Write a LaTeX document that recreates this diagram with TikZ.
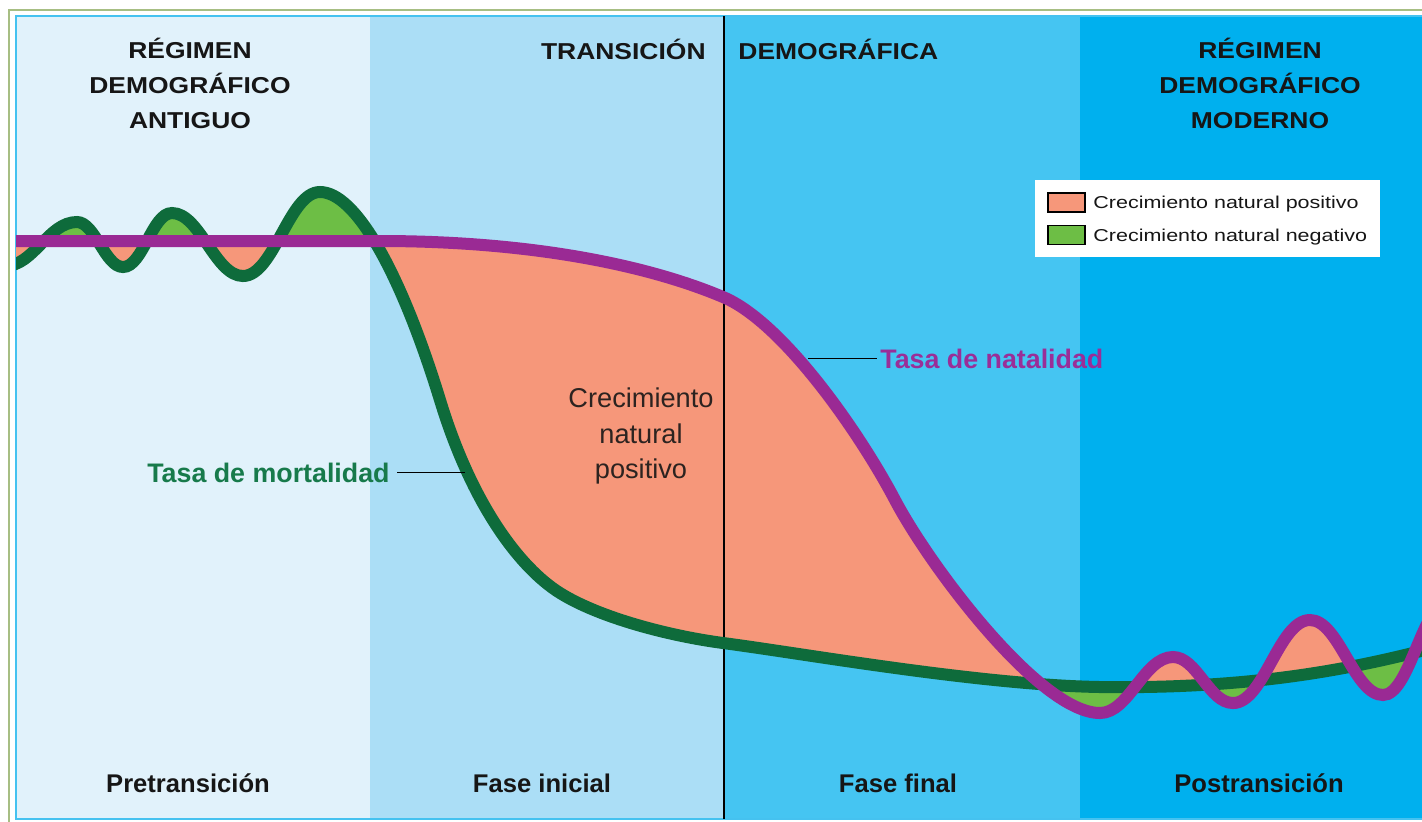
\documentclass[tikz,border=0pt]{standalone}
\usepackage{fontspec}
\setmainfont{Liberation Sans}
\newfontfamily\headfont{Liberation Sans}[FakeStretch=1.15]
\newfontfamily\legfont{Liberation Sans}[FakeStretch=1.25]
\definecolor{panelA}{HTML}{E1F2FB}
\definecolor{panelB}{HTML}{ABDEF6}
\definecolor{panelC}{HTML}{45C5F2}
\definecolor{panelD}{HTML}{00B0EE}
\definecolor{salmonc}{HTML}{F6977A}
\definecolor{lgreen}{HTML}{6DBE45}
\definecolor{dgreen}{HTML}{0E6B3B}
\definecolor{purplec}{HTML}{9A2A94}
\definecolor{mortc}{HTML}{177A4B}
\definecolor{natc}{HTML}{9A2E98}
\definecolor{framec}{HTML}{A7BE83}
\definecolor{borderc}{HTML}{45C2F0}
\definecolor{inkc}{HTML}{161616}
\begin{document}
\begin{tikzpicture}[x=0.5pt,y=-0.5pt,
  gpath/.style={insert path={(-40,250) .. controls (-20,266) and (-10,266) .. (5,266)
     .. controls (34,266) and (48,222) .. (77,222)
     .. controls (95,222) and (105,267) .. (123,267)
     .. controls (143,267) and (152,213) .. (172,213)
     .. controls (200,213) and (215,276) .. (243,276)
     .. controls (274,276) and (289,192) .. (320,192)
     .. controls (355,192) and (400,270) .. (440,400)
     .. controls (472,505) and (520,568) .. (560,593)
     .. controls (600,618) and (670,636) .. (723,643)
     .. controls (800,653) and (980,685) .. (1100,687)
     .. controls (1250,689) and (1350,670) .. (1440,646)}},
  ppath/.style={insert path={(-10,241) -- (380,241)
     .. controls (520,241) and (640,262) .. (723,297)
     .. controls (783,322) and (860,433.5) .. (895,500)
     .. controls (930,566.5) and (1040,713) .. (1100,713)
     .. controls (1129,713) and (1144,657) .. (1173,657)
     .. controls (1197,657) and (1209,703) .. (1233,703)
     .. controls (1264,703) and (1279,620) .. (1310,620)
     .. controls (1339,620) and (1354,695) .. (1383,695)
     .. controls (1410,695) and (1423,600) .. (1450,600)}},
  curve/.style={line width=6pt},
  headtxt/.style={font=\headfont\bfseries\fontsize{11.5}{14}\selectfont, text=inkc, inner sep=0pt, anchor=base},
  phasetxt/.style={font=\bfseries\fontsize{12.8}{15}\selectfont, text=inkc, inner sep=0pt, anchor=base},
  midtxt/.style={font=\fontsize{13.6}{16}\selectfont, text=inkc!90!salmonc, inner sep=0pt, anchor=base},
  legtxt/.style={font=\legfont\fontsize{8.6}{10}\selectfont, text=inkc, inner sep=0pt, anchor=base west},
  swatch/.style={draw=black, line width=0.6pt, minimum width=18.5pt, minimum height=9.5pt, inner sep=0pt},
  ratetxt/.style={font=\bfseries\fontsize{13.4}{16}\selectfont, inner sep=0pt},
  pointer/.style={draw=black, line width=0.6pt}
]
\useasboundingbox (0,0) rectangle (1422,821);
\fill[white] (0,0) rectangle (1422,821);
% frame
\draw[framec, line width=0.8pt] (9,830) -- (9,10) -- (1430,10);
% panels
\fill[panelA] (16,16) rectangle (370,819);
\fill[panelB] (370,16) rectangle (724,819);
\fill[panelC] (724,16) rectangle (1080,819);
\fill[panelD] (1080,16) rectangle (1430,819);
\draw[borderc, line width=0.8pt] (1430,819) -- (16,819) -- (16,16) -- (1430,16);
\begin{scope}
\clip (16,16) rectangle (1422,819);
% positive natural growth (birth above death)
\begin{scope}
\clip[gpath] -- (1460,-10) -- (-40,-10) -- cycle;
\fill[salmonc, ppath] -- (1460,830) -- (-10,830) -- cycle;
\end{scope}
% negative natural growth (death above birth)
\begin{scope}
\clip[gpath] -- (1460,830) -- (-40,830) -- cycle;
\fill[lgreen, ppath] -- (1460,-10) -- (-10,-10) -- cycle;
\end{scope}
% divider
\draw[black, line width=0.7pt] (724,16) -- (724,819);
% curves
\draw[dgreen, curve, gpath];
\draw[purplec, curve, ppath];
\end{scope}
% headings
\node[headtxt] (h1a) at (190,58) {RÉGIMEN};
\node[headtxt] (h1b) at (190,93) {DEMOGRÁFICO};
\node[headtxt] (h1c) at (190,128) {ANTIGUO};
\node[headtxt, anchor=base east] (h2) at (706,59) {TRANSICIÓN};
\node[headtxt, anchor=base west] (h3) at (738,59) {DEMOGRÁFICA};
\node[headtxt] (h4a) at (1260,58) {RÉGIMEN};
\node[headtxt] (h4b) at (1260,93) {DEMOGRÁFICO};
\node[headtxt] (h4c) at (1260,128) {MODERNO};
% legend
\node[fill=white, minimum width=172.5pt, minimum height=38.5pt, inner sep=0pt] (legend) at (1207.5,218.5) {};
\node[swatch, fill=salmonc] (sw1) at (1066.5,202.5) {};
\node[swatch, fill=lgreen] (sw2) at (1066.5,235) {};
\node[legtxt] (lt1) at (1093,208) {Crecimiento natural positivo};
\node[legtxt] (lt2) at (1093,241) {Crecimiento natural negativo};
% middle label
\node[midtxt] (m1) at (641,407) {Crecimiento};
\node[midtxt] (m2) at (641,443) {natural};
\node[midtxt] (m3) at (641,478) {positivo};
% rate labels
\node[ratetxt, text=natc, anchor=base west] (nat) at (880,368) {Tasa de natalidad};
\coordinate (npt) at (808,360);
\draw[pointer] (npt |- nat.west) -- ([xshift=-1.5pt]nat.west);
\node[ratetxt, text=mortc, anchor=base east] (mort) at (390,482) {Tasa de mortalidad};
\coordinate (mpt) at (465,473);
\draw[pointer] ([xshift=3.5pt]mort.east) -- (mort.east -| mpt);
% phases
\node[phasetxt] (p1) at (188,792) {Pretransición};
\node[phasetxt] (p2) at (542,792) {Fase inicial};
\node[phasetxt] (p3) at (898,792) {Fase final};
\node[phasetxt] (p4) at (1259,792) {Postransición};
\end{tikzpicture}
\end{document}
